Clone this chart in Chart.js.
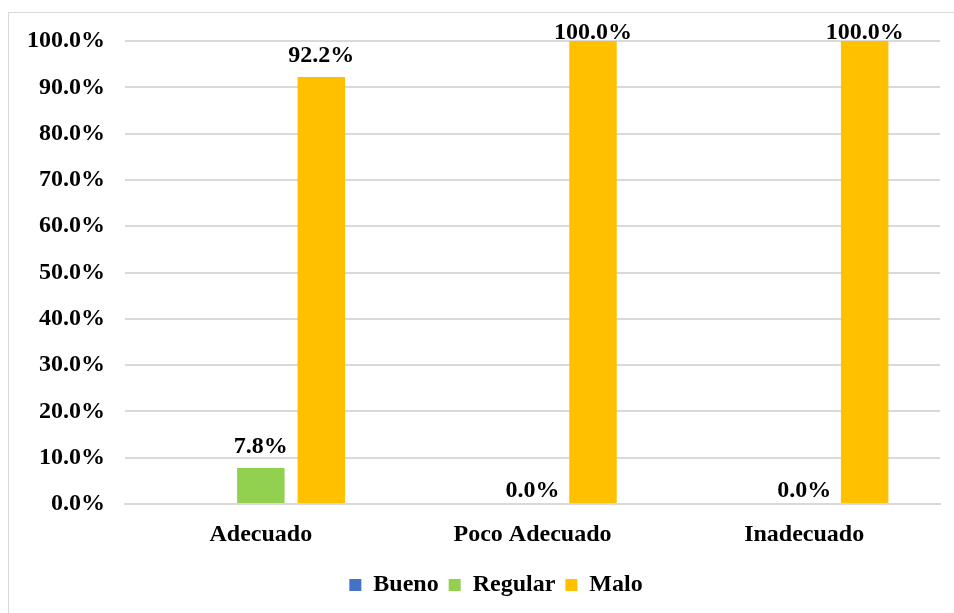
<!DOCTYPE html>
<html>
<head>
<meta charset="utf-8">
<script src="https://cdn.jsdelivr.net/npm/chart.js@4.4.0/dist/chart.umd.min.js"></script>
<style>
  html, body { margin: 0; padding: 0; background: #fff; overflow: hidden; }
  #wrap { position: relative; width: 954px; height: 613px; }
  #frame { position: absolute; left: 8px; top: 12px; width: 960px; height: 620px; border: 1px solid #d9d9d9; box-sizing: border-box; }
  canvas { position: absolute; left: 0; top: 0; }
</style>
</head>
<body>
<div id="wrap">
  <div id="frame"></div>
  <canvas id="chart" width="954" height="613"></canvas>
</div>
<script>
// Chart data
const categories = ['Adecuado', 'Poco Adecuado', 'Inadecuado'];
const seriesNames = ['Bueno', 'Regular', 'Malo'];
const bueno = [null, null, null];
const regular = [7.8, 0.0, 0.0];
const malo = [92.2, 100.0, 100.0];
const seriesColors = ['#4472C4', '#92D050', '#FFC000'];

const font = { family: '"Liberation Serif", "Times New Roman", serif', size: 24, weight: 'bold' };

// Draws the value above each bar (like Excel "outside end")
const barLabels = {
  id: 'barLabels',
  afterDatasetsDraw(chart) {
    const ctx = chart.ctx;
    ctx.save();
    ctx.font = 'bold 24px "Liberation Serif", "Times New Roman", serif';
    ctx.fillStyle = '#000';
    ctx.textAlign = 'center';
    ctx.textBaseline = 'alphabetic';
    chart.data.datasets.forEach((ds, i) => {
      const meta = chart.getDatasetMeta(i);
      meta.data.forEach((bar, j) => {
        const v = ds.data[j];
        if (v === null || v === undefined) return;
        let y = v === 0 ? bar.y - 7 : bar.y - 15;
        y = Math.max(y, chart.chartArea.top - 2);
        ctx.fillText(v.toFixed(1) + '%', bar.x, y);
      });
    });
    ctx.restore();
  }
};

// legend in the reference sits a bit right of the canvas centre
const legendShift = {
  id: 'legendShift',
  afterLayout(chart) {
    chart.legend.left += 26;
    chart.legend.right += 26;
  }
};

const chart = new Chart(document.getElementById('chart'), {
  type: 'bar',
  data: {
    labels: categories,
    datasets: [
      { label: seriesNames[0], data: bueno, backgroundColor: seriesColors[0] },
      { label: seriesNames[1], data: regular, backgroundColor: seriesColors[1] },
      { label: seriesNames[2], data: malo, backgroundColor: seriesColors[2] }
    ]
  },
  options: {
    responsive: false,
    animation: false,
    devicePixelRatio: 1,
    categoryPercentage: 0.668,
    barPercentage: 0.785,
    layout: { padding: { left: 0, right: 14, top: 41, bottom: 6 } },
    scales: {
      x: {
        grid: { display: false, drawTicks: false },
        border: { display: true, color: '#d9d9d9', width: 2 },
        ticks: { color: '#000', font: font, padding: 16 },
        afterFit(scale) { scale.height = 59; }
      },
      y: {
        min: 0,
        max: 100,
        grid: { color: '#d9d9d9', lineWidth: 2, drawTicks: false },
        border: { display: false },
        ticks: {
          stepSize: 10,
          color: '#000',
          font: font,
          padding: 20,
          callback: v => v.toFixed(1) + '%'
        },
        afterFit(scale) { scale.width = 125; }
      }
    },
    plugins: {
      legend: {
        position: 'bottom',
        labels: {
          color: '#000',
          font: font,
          boxWidth: 12,
          boxHeight: 12,
          padding: 10
        }
      },
      tooltip: { enabled: false }
    }
  },
  plugins: [barLabels, legendShift]
});
</script>
</body>
</html>
